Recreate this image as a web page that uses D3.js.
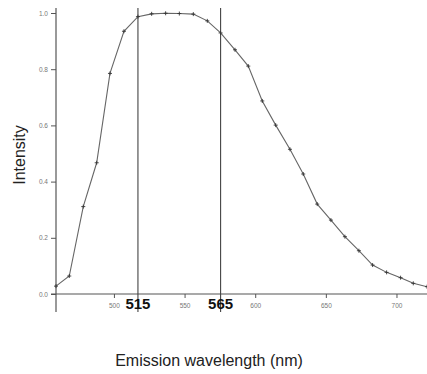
<!DOCTYPE html>
<html><head><meta charset="utf-8">
<script src="https://cdn.jsdelivr.net/npm/d3@7"></script>
<style>html,body{margin:0;padding:0;background:#fff;}svg{display:block;}</style>
</head><body>
<svg id="c" width="427" height="374"></svg>
<script>
const wavelengths = [459.0,468.4,478.3,487.8,497.2,507.1,517.0,526.7,536.6,546.3,556.2,566.1,575.5,585.7,595.1,605.0,614.5,624.6,634.0,643.9,653.6,663.5,673.4,683.1,693.0,702.9,711.9,721.6];
const intensity = [0.028,0.064,0.311,0.467,0.785,0.935,0.987,0.997,0.999,0.998,0.996,0.972,0.929,0.869,0.811,0.687,0.601,0.515,0.427,0.320,0.263,0.204,0.154,0.103,0.077,0.058,0.038,0.026];
const xTicks = [500,550,600,650,700];
const yTicks = [0,0.2,0.4,0.6,0.8,1.0];
const markerPos = [517.0,575.5];
const markerLabels = ["515","565"];

const svg = d3.select("#c");
const x = d3.scaleLinear().domain([459,721.6]).range([56,427]);
const y = d3.scaleLinear().domain([0,1]).range([294,13]);
const axisCol = "#555";
const font = "Liberation Sans, Arial, sans-serif";

// y axis
const ya = svg.append("g").attr("transform","translate(56,0)")
  .call(d3.axisLeft(y).tickValues(yTicks).tickFormat(d3.format(".1f")).tickSize(5).tickSizeOuter(0));
ya.select(".domain").remove();
ya.selectAll(".tick line").attr("stroke",axisCol);
ya.selectAll(".tick text").attr("fill","#777").attr("font-size","6.5px").attr("font-family",font).attr("x",-8);
svg.append("line").attr("x1",56).attr("x2",56).attr("y1",y(1.018)).attr("y2",y(-0.064)).attr("stroke",axisCol).attr("stroke-width",1.2);

// x axis
const xa = svg.append("g").attr("transform","translate(0,294)")
  .call(d3.axisBottom(x).tickValues(xTicks).tickFormat(d3.format("d")).tickSize(4).tickSizeOuter(0));
xa.select(".domain").remove();
xa.selectAll(".tick line").attr("stroke",axisCol);
xa.selectAll(".tick text").attr("fill","#777").attr("font-size","6.5px").attr("font-family",font).attr("y",9);
svg.append("line").attr("x1",x(455.5)).attr("x2",427).attr("y1",294).attr("y2",294).attr("stroke",axisCol).attr("stroke-width",1.2);

// marker lines
markerPos.forEach((m,i)=>{
  svg.append("line").attr("x1",x(m)).attr("x2",x(m)).attr("y1",y(1.018)).attr("y2",y(-0.064))
    .attr("stroke","#444").attr("stroke-width",1.1);
  svg.append("text").attr("x",x(m)).attr("y",309).attr("text-anchor","middle")
    .attr("font-family",font).attr("font-size","15px").attr("font-weight","bold").attr("fill","#111")
    .text(markerLabels[i]);
});

// curve
const pts = wavelengths.map((w,i)=>[w,intensity[i]]);
svg.append("path").datum(pts)
  .attr("d", d3.line().x(d=>x(d[0])).y(d=>y(d[1])))
  .attr("fill","none").attr("stroke","#666").attr("stroke-width",1.1);
// cross markers
const g = svg.append("g").attr("stroke","#333").attr("stroke-width",0.9);
pts.forEach(d=>{
  const px = x(d[0]), py = y(d[1]);
  g.append("line").attr("x1",px-2).attr("x2",px+2).attr("y1",py).attr("y2",py);
  g.append("line").attr("x1",px).attr("x2",px).attr("y1",py-2).attr("y2",py+2);
});

// axis titles
svg.append("text").attr("transform","translate(25,155) rotate(-90)").attr("text-anchor","middle")
  .attr("font-family",font).attr("font-size","16px").attr("fill","#222").text("Intensity");
svg.append("text").attr("x",209).attr("y",366).attr("text-anchor","middle")
  .attr("font-family",font).attr("font-size","16px").attr("fill","#222").text("Emission wavelength (nm)");
</script>
</body></html>
